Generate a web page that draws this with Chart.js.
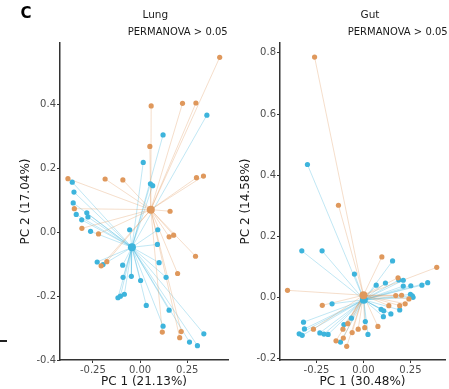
<!DOCTYPE html>
<html><head><meta charset="utf-8">
<script src="https://cdn.jsdelivr.net/npm/chart.js@4.4.1/dist/chart.umd.min.js"></script>
<style>
html,body{margin:0;padding:0;background:#fff;}
body{width:449px;height:389px;position:relative;overflow:hidden;font-family:"DejaVu Sans",sans-serif;}
.lbl{position:absolute;white-space:nowrap;color:#1a1a1a;line-height:1;}
#w1{position:absolute;left:0;top:0;width:232px;height:389px;}
#w2{position:absolute;left:224px;top:0;width:225px;height:389px;}
#dash{position:absolute;left:0;top:340px;width:7px;height:1.5px;background:#222;}
</style></head><body>
<div id="w1"><canvas id="c1" width="232" height="389"></canvas></div>
<div id="w2"><canvas id="c2" width="225" height="389"></canvas></div>
<div class="lbl" style="left:20.5px;top:6.3px;font-size:15px;font-weight:bold;color:#000;">C</div>
<div class="lbl" style="left:155.3px;top:8.8px;font-size:10.5px;transform:translateX(-50%);">Lung</div>
<div class="lbl" style="right:221.3px;top:26.5px;font-size:10px;">PERMANOVA &gt; 0.05</div>
<div class="lbl" style="left:370px;top:8.8px;font-size:10.5px;transform:translateX(-50%);">Gut</div>
<div class="lbl" style="right:1.3px;top:26.5px;font-size:10px;">PERMANOVA &gt; 0.05</div>
<div id="dash"></div>
<script>
// ---- data ----
const lungBlue = [[0.354,0.367],[0.122,0.305],[0.017,0.219],[-0.359,0.157],[0.055,0.152],[0.067,0.146],
 [-0.35,0.126],[-0.354,0.092],[-0.338,0.056],[-0.282,0.061],[-0.276,0.048],[-0.309,0.039],[-0.262,0.003],
 [-0.055,0.008],[0.094,0.008],[0.092,-0.038],[-0.227,-0.093],[-0.196,-0.101],[-0.092,-0.103],[0.101,-0.095],
 [-0.09,-0.141],[-0.046,-0.138],[0.003,-0.151],[0.138,-0.141],[-0.117,-0.205],[-0.104,-0.2],[-0.083,-0.194],
 [0.033,-0.229],[0.154,-0.244],[0.122,-0.294],[0.262,-0.344],[0.304,-0.355],[0.338,-0.318]];
const lungOrange = [[0.422,0.548],[0.059,0.396],[0.225,0.404],[0.296,0.405],[0.052,0.269],[-0.382,0.168],
 [-0.185,0.167],[-0.091,0.164],[0.299,0.171],[0.336,0.176],[-0.348,0.074],[-0.308,0.0125],[-0.22,-0.005],
 [0.159,0.066],[0.154,-0.014],[0.178,-0.009],[-0.176,-0.092],[-0.206,-0.105],[0.294,-0.075],[0.199,-0.129],
 [0.118,-0.3125],[0.218,-0.311],[0.21,-0.33]];
const lungBlueCentroid = [-0.043,-0.047];
const lungOrangeCentroid = [0.057,0.071];

const gutBlue = [[-0.298,0.435],[-0.328,0.153],[-0.22,0.153],[-0.048,0.077],[0.155,0.12],[-0.167,-0.02],
 [-0.319,-0.08],[-0.314,-0.102],[-0.342,-0.118],[-0.326,-0.123],[-0.232,-0.115],[-0.21,-0.119],[-0.188,-0.12],
 [-0.104,-0.088],[-0.064,-0.067],[-0.122,-0.145],[0.01,-0.078],[0.024,-0.12],[0.068,0.041],[0.117,0.048],
 [0.188,0.058],[0.212,0.057],[0.212,0.038],[0.252,0.039],[0.311,0.041],[0.342,0.049],[0.25,0.011],
 [0.26,0.006],[0.264,0.001],[0.193,-0.04],[0.146,-0.053],[0.094,-0.038],[0.108,-0.043],[0.106,-0.062]];
const gutOrange = [[-0.26,0.786],[-0.133,0.302],[0.098,0.133],[0.39,0.099],[-0.404,0.024],[-0.219,-0.025],
 [-0.266,-0.103],[-0.083,-0.085],[-0.109,-0.103],[-0.06,-0.114],[-0.028,-0.103],[-0.107,-0.132],[-0.146,-0.141],
 [-0.089,-0.159],[0.007,-0.098],[0.077,-0.094],[0.184,0.065],[0.172,0.007],[0.203,0.008],[0.242,-0.004],
 [0.222,-0.02],[0.193,-0.026],[0.135,-0.026]];
const gutBlueCentroid = [0.002,-0.007];
const gutOrangeCentroid = [0.0,0.008];

const xTickValues = [-0.25, 0, 0.25];
const lungYTicks = [-0.4, -0.2, 0, 0.2, 0.4];
const gutYTicks = [-0.2, 0, 0.2, 0.4, 0.6, 0.8];
const lungTitles = ['PC 1 (21.13%)', 'PC 2 (17.04%)'];
const gutTitles = ['PC 1 (30.48%)', 'PC 2 (14.58%)'];

// ---- styling ----
const BLUE = '#3DB4DC', ORANGE = '#DF985C';
const BLUE_L = 'rgba(61,180,220,0.32)', ORANGE_L = 'rgba(223,152,92,0.32)';
Chart.defaults.font.family = '"DejaVu Sans", sans-serif';

function toPts(a){ return a.map(p => ({x:p[0], y:p[1]})); }
function spokes(pts, c){
  const d = [];
  pts.forEach(p => { d.push({x:c[0],y:c[1]}, {x:p[0],y:p[1]}, {x:null,y:null}); });
  return d;
}
function pointDs(data, color, r){
  return {data, showLine:false, pointRadius:r, pointHoverRadius:r, pointBorderWidth:0,
          backgroundColor:color, borderColor:color};
}
function lineDs(data, color){
  return {data, showLine:true, spanGaps:false, pointRadius:0, pointHoverRadius:0,
          borderWidth:1, borderColor:color, backgroundColor:color, fill:false, tension:0};
}

function makeChart(id, blue, orange, cB, cO, xr, yr, yTicks, titles, yW, padRight, yTitlePad, yDec){
  new Chart(document.getElementById(id), {
    type:'scatter',
    data:{datasets:[
      pointDs([{x:cO[0],y:cO[1]}], ORANGE, 4),
      pointDs([{x:cB[0],y:cB[1]}], BLUE, 4),
      pointDs(toPts(orange), ORANGE, 2.6),
      pointDs(toPts(blue), BLUE, 2.6),
      lineDs(spokes(orange, cO), ORANGE_L),
      lineDs(spokes(blue, cB), BLUE_L)
    ]},
    options:{
      responsive:false, animation:false, devicePixelRatio:1,
      layout:{padding:{left:0,right:padRight,top:43,bottom:0}},
      plugins:{legend:{display:false}, tooltip:{enabled:false}},
      scales:{
        x:{type:'linear', min:xr[0], max:xr[1],
          afterBuildTicks:s=>{ s.ticks = xTickValues.map(v=>({value:v})); },
          afterFit:s=>{ s.height = 29; s.paddingLeft = 0; s.paddingRight = 0; },
          ticks:{callback:v=>Number(v).toFixed(2), font:{size:10}, color:'#4d4d4d', padding:1, maxRotation:0, autoSkip:false},
          grid:{drawOnChartArea:false, drawTicks:true, tickLength:3, color:'#333', lineWidth:1},
          border:{display:true, color:'#333', width:1.5},
          title:{display:true, text:titles[0], font:{size:12}, color:'#1a1a1a', padding:{top:0,bottom:0}}
        },
        y:{type:'linear', min:yr[0], max:yr[1],
          afterBuildTicks:s=>{ s.ticks = yTicks.map(v=>({value:v})); },
          afterFit:s=>{ s.width = yW; s.paddingTop = 0; s.paddingBottom = 0; },
          ticks:{callback:v=>Number(v).toFixed(yDec), font:{size:10}, color:'#4d4d4d', padding:1, autoSkip:false},
          grid:{drawOnChartArea:false, drawTicks:true, tickLength:3, color:'#333', lineWidth:1},
          border:{display:true, color:'#333', width:1.5},
          title:{display:true, text:titles[1], font:{size:12}, color:'#1a1a1a', padding:{top:yTitlePad,bottom:0}}
        }
      }
    }
  });
}

makeChart('c1', lungBlue, lungOrange, lungBlueCentroid, lungOrangeCentroid,
  [-0.424, 0.466], [-0.4, 0.593], lungYTicks, lungTitles, 60, 3, 19, 1);
makeChart('c2', gutBlue, gutOrange, gutBlueCentroid, gutOrangeCentroid,
  [-0.444, 0.434], [-0.2036, 0.832], gutYTicks, gutTitles, 56, 0, 15, 1);
</script>
</body></html>
